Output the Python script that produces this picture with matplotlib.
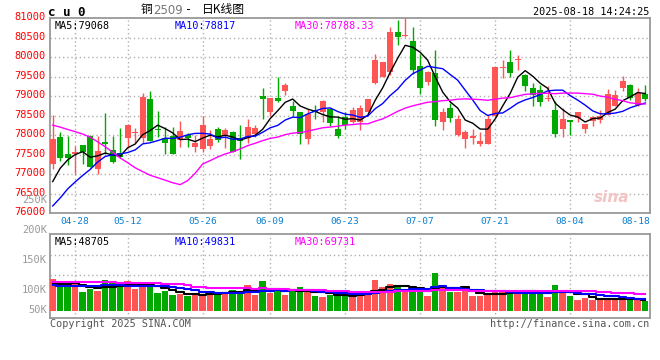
import numpy as np
import pandas as pd
import matplotlib
matplotlib.use('Agg')
import matplotlib.pyplot as plt
from matplotlib.transforms import ScaledTranslation

plt.rcParams['font.family'] = ['DejaVu Sans Mono', 'Noto Sans CJK SC']

# 交易日 (去掉五一、端午假期)
holidays = ['2025-05-01', '2025-05-02', '2025-05-05', '2025-06-02']
days = pd.bdate_range('2025-04-23', '2025-08-18')
days = days[~days.isin(pd.to_datetime(holidays))]
dates = days.strftime('%m-%d').tolist()
tick_dates = ['04-28', '05-12', '05-26', '06-09', '06-23', '07-07', '07-21', '08-04', '08-18']

opens = [77265, 77966, 77509, 77509, 77743, 77983, 77145, 77820, 77624, 77538,
         77940, 78060, 77923, 78915, 78171, 77923, 77991, 77880, 78009, 77709,
         77658, 77726, 78162, 77991, 78085, 77932, 77932, 78034, 78991, 78585,
         78940, 79137, 78754, 78590, 77897, 78654, 78590, 78670, 78162, 78478,
         78338, 78350, 78585, 79338, 79500, 79628, 80637, 80543, 80414, 79773,
         79360, 79590, 78338, 78705, 78009, 77897, 77940, 77786, 77786, 78483,
         79730, 79863, 79915, 79540, 79197, 79146, 78915, 78654, 78171, 78398,
         78445, 78171, 78360, 78390, 78526, 78740, 79205, 79274, 78783, 79051]
highs = [78526, 78085, 77991, 77726, 77743, 78009, 77983, 78577, 77991, 78188,
         78274, 78180, 79068, 79120, 78628, 78197, 78205, 78359, 78060, 78000,
         78487, 78120, 78222, 78180, 78103, 78256, 78410, 78265, 79197, 78950,
         79491, 79342, 78872, 78600, 78670, 78760, 78890, 78705, 78487, 78600,
         78714, 78760, 78915, 80073, 79880, 80774, 80956, 81000, 80770, 80090,
         79640, 80175, 78705, 78825, 78520, 78137, 78154, 78094, 78505, 79740,
         79915, 80170, 80045, 79565, 79342, 79283, 79270, 78868, 78705, 78398,
         78600, 78295, 78497, 78654, 79188, 79154, 79514, 79300, 79214, 79291]
lows = [77137, 77329, 77239, 77000, 77265, 77180, 77009, 77526, 77282, 77420,
        77667, 77812, 77795, 77846, 77949, 77530, 77513, 77709, 77709, 77581,
        77581, 77650, 77820, 77675, 77564, 77385, 77812, 77966, 78415, 78487,
        78860, 79034, 78500, 77786, 77778, 78410, 78350, 78225, 77923, 78170,
        78312, 78120, 78585, 79321, 79490, 79543, 80320, 80517, 79560, 79060,
        79290, 78245, 78137, 78350, 77983, 77683, 77778, 77726, 77786, 78480,
        79460, 79500, 79667, 79137, 78745, 78750, 78880, 77949, 77949, 78009,
        78338, 78051, 78225, 78320, 78526, 78740, 79137, 78897, 78757, 78880]
closes = [77906, 77406, 77423, 77577, 77572, 77197, 77590, 77778, 77325, 77436,
          78256, 78077, 78966, 77863, 78120, 77812, 77530, 78111, 77923, 77803,
          78265, 77906, 77880, 78137, 77581, 77863, 78214, 78188, 78915, 78940,
          78872, 79291, 78608, 78026, 78543, 78585, 78880, 78312, 77991, 78273,
          78654, 78705, 78915, 79920, 79870, 80637, 80517, 80560, 79679, 79218,
          79616, 78398, 78603, 78432, 78420, 78085, 77991, 77855, 78420, 79735,
          79750, 79590, 79930, 79257, 79026, 78846, 78940, 78026, 78427, 78338,
          78600, 78295, 78463, 78500, 79043, 79034, 79377, 78940, 79068, 78915]
# 成交量 (K手)
volumes = [141, 114, 114, 117, 83, 96, 88, 137, 123, 114,
           132, 96, 119, 112, 79, 89, 70, 74, 67, 68,
           76, 82, 79, 83, 91, 88, 114, 70, 132, 79,
           86, 70, 91, 105, 82, 67, 61, 70, 74, 70,
           61, 80, 83, 137, 107, 119, 104, 88, 105, 82,
           67, 168, 105, 85, 85, 88, 67, 64, 70, 82,
           82, 92, 80, 92, 82, 76, 62, 114, 88, 67,
           47, 55, 47, 50, 58, 50, 50, 50, 50, 44]

# 图中首日之前29个交易日 (用于均线)
prior_close = [78900, 79200, 79300, 79400, 79585, 81200, 81500, 81600, 81800, 81900,
               82000, 81858, 80700, 80000, 79700, 79500, 79557, 74800, 72200, 71100,
               75356, 75100, 75800, 75900, 75664, 75696, 76358, 76892, 77208]
prior_vol = [110, 115, 120, 130, 125, 118, 122, 128, 135, 140,
             132, 126, 120, 118, 125, 130, 126, 200, 220, 190,
             150, 125, 100, 90, 85, 105, 110, 114, 120]

RED = '#ff5555'
GREEN = '#00a800'
GRID = '#b0b0b0'
FRAME = '#999999'
MA_COLORS = {5: 'black', 10: '#0000ff', 30: '#ff00ff'}

n = len(closes)
x = np.arange(n)
o = np.array(opens, float)
h = np.array(highs, float)
l = np.array(lows, float)
c = np.array(closes, float)
v = np.array(volumes, float) * 1000
up = c >= o
col = np.where(up, RED, GREEN)

all_close = pd.Series(prior_close + closes, dtype=float)
all_vol = pd.Series(prior_vol + volumes, dtype=float) * 1000

fig = plt.figure(figsize=(6.6, 3.6), dpi=100)
W, H = 660, 360


def box(left, top, right, bottom):
    return [left / W, 1 - bottom / H, (right - left) / W, (bottom - top) / H]


def ftext(px, py, s, **kw):
    fig.text(px / W, 1 - py / H, s, **kw)


ax = fig.add_axes(box(50, 18, 650, 213.3))
axv = fig.add_axes(box(50, 234, 650, 318))

tick_idx = [dates.index(d) for d in tick_dates]

# ---- K线 ----
ax.vlines(x, l, h, colors=col, lw=1, zorder=3)
body = np.maximum(np.abs(c - o), 25)
ax.bar(x, body, bottom=np.minimum(o, c), width=0.76, color=col, linewidth=0, zorder=4)
for p in [5, 10, 30]:
    ma = all_close.rolling(p).mean().values[-n:]
    ax.plot(x, ma, color=MA_COLORS[p], lw=1, zorder=5)

ax.set_xlim(-0.36, n - 0.36)
ax.set_ylim(76000, 81000)
ax.set_yticks(np.arange(76000, 81001, 500))
ax.set_yticklabels([str(t) for t in range(76000, 81001, 500)], color='#ff0000', fontsize=7.5)
ax.tick_params(axis='y', length=0, pad=3)
up2px = ScaledTranslation(0, 2 / 100, fig.dpi_scale_trans)
for lab in ax.get_yticklabels():
    lab.set_transform(lab.get_transform() + up2px)
ax.set_xticks([])
for yy in range(76500, 81000, 500):
    ax.axhline(yy, color=GRID, lw=1, ls=(0, (1, 2)), zorder=1)
for ti in tick_idx[:-1]:
    ax.axvline(ti, color=GRID, lw=1, ls=(0, (1, 2)), zorder=1)
for ti, lab in zip(tick_idx, tick_dates):
    ha = 'right' if ti == tick_idx[-1] else 'center'
    xx = ti + 0.65 if ha == 'right' else ti
    ax.text(xx, -0.04, lab, transform=ax.get_xaxis_transform(), ha=ha, va='center',
            fontsize=6.8, color='#0a7fd0')

ax.text(0.008, 0.985, 'MA5:79068', transform=ax.transAxes, fontsize=7.3, color='black', va='top')
ax.text(0.208, 0.985, 'MA10:78817', transform=ax.transAxes, fontsize=7.3, color='#0000ff', va='top')
ax.text(0.408, 0.985, 'MA30:78788.33', transform=ax.transAxes, fontsize=7.3, color='#ff00ff', va='top')
ax.text(0.965, 0.08, 'sina', transform=ax.transAxes, fontsize=11, color='#f2c4c4',
        ha='right', va='center', style='italic', fontweight='bold', family='DejaVu Sans')

# ---- 成交量 ----
axv.bar(x, v, width=0.86, color=col, linewidth=0, zorder=3)
for p in [5, 10, 30]:
    mav = all_vol.rolling(p).mean().values[-n:]
    axv.plot(x, mav, color=MA_COLORS[p], lw=1.5, drawstyle='steps-mid', zorder=4)
axv.set_xlim(-0.36, n - 0.36)
axv.set_ylim(-32500, 341000)
axv.set_xticks([])
axv.set_yticks([])
for yy in [248000, 159000]:
    axv.axhline(yy, color=GRID, lw=1, ls=(0, (1, 2)), zorder=1)
for ti in tick_idx[:-1]:
    axv.axvline(ti, color=GRID, lw=1, ls=(0, (1, 2)), zorder=1)
axv.text(0.008, 0.97, 'MA5:48705', transform=axv.transAxes, fontsize=7.3, color='black', va='top')
axv.text(0.208, 0.97, 'MA10:49831', transform=axv.transAxes, fontsize=7.3, color='#0000ff', va='top')
axv.text(0.408, 0.97, 'MA30:69731', transform=axv.transAxes, fontsize=7.3, color='#ff00ff', va='top')

for a in (ax, axv):
    for s in a.spines.values():
        s.set_color(FRAME)
        s.set_linewidth(1.3)

# 成交量刻度文字 (新浪原图中250K与76500重叠)
for lab, py in [('250K', 200), ('200K', 230), ('150K', 260), ('100K', 290), ('50K', 310)]:
    ftext(47, py, lab, ha='right', va='center', fontsize=7.5, color='#999999')

# ---- 标题等 ----
ftext(48, 12, 'c u 0', ha='left', va='center', fontsize=9, fontweight='bold', color='black')
ftext(141, 10, '铜', ha='left', va='center', fontsize=8.5, color='black', family='Noto Sans CJK SC')
ftext(153, 10, '2509', ha='left', va='center', fontsize=8.5, color='#777777', family='DejaVu Sans')
ftext(185, 10, '-', ha='left', va='center', fontsize=8.5, color='black')
ftext(202, 10, '日K线图', ha='left', va='center', fontsize=8.5, color='black', family='Noto Sans CJK SC')
ftext(649, 12, '2025-08-18 14:24:25', ha='right', va='center', fontsize=7.3, color='black')
ftext(50, 324, 'Copyright 2025 SINA.COM', ha='left', va='center', fontsize=7.3, color='#555555')
ftext(649, 324, 'http://finance.sina.com.cn', ha='right', va='center', fontsize=7.3, color='#555555')

fig.savefig('out.png', dpi=100)
